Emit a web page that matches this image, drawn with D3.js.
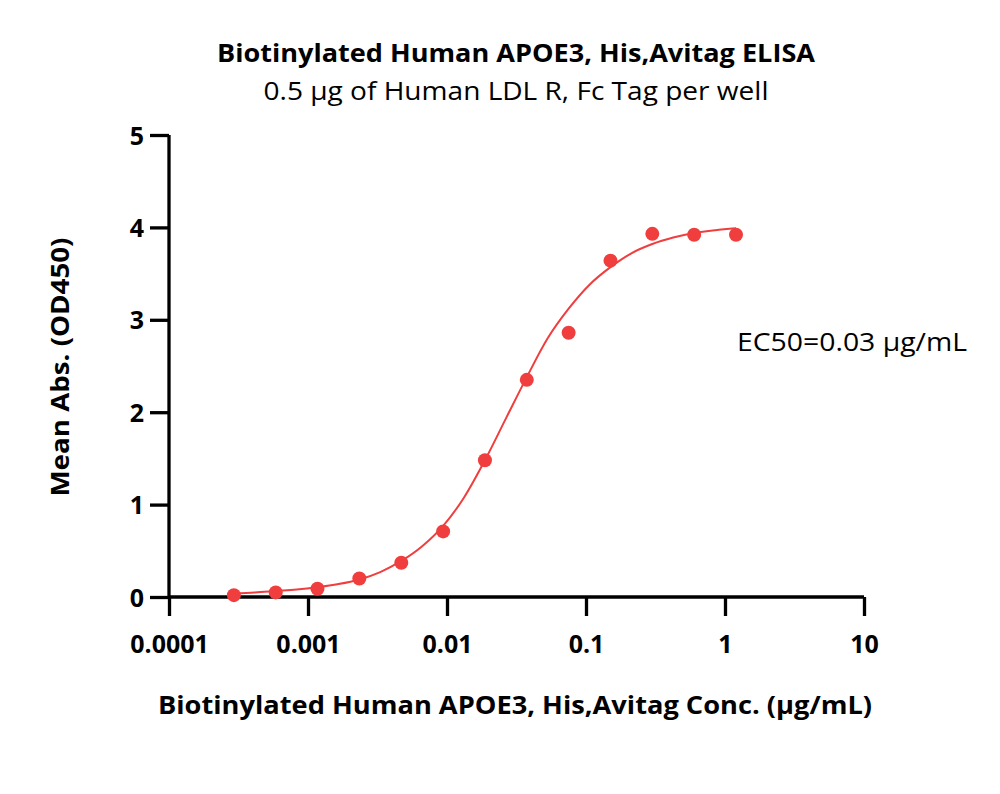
<!DOCTYPE html>
<html>
<head>
<meta charset="utf-8">
<script src="https://cdn.jsdelivr.net/npm/d3@7"></script>
<style>
  body { margin: 0; background: #fff; }
  svg text { font-family: "Open Sans", Lato, sans-serif; fill: #000; }
</style>
</head>
<body>
<svg id="chart" width="1000" height="794"></svg>
<script>
// measured points (conc in µg/mL, mean OD450)
const conc = [0.000293, 0.000586, 0.00117, 0.00234, 0.00469, 0.00938, 0.01875, 0.0375, 0.075, 0.15, 0.3, 0.6, 1.2];
const od = [0.02, 0.05, 0.09, 0.20, 0.37, 0.71, 1.48, 2.35, 2.86, 3.64, 3.93, 3.92, 3.92];

// fitted curve
const fitConc = [0.000293, 0.000414, 0.000586, 0.000829, 0.00117, 0.00166, 0.00234, 0.00331, 0.00469, 0.00663,
  0.00938, 0.0133, 0.01875, 0.0265, 0.0375, 0.053, 0.075, 0.106, 0.15, 0.212, 0.3, 0.424, 0.6, 0.85, 1.2];
const fitOd = [0.04, 0.05, 0.065, 0.08, 0.105, 0.14, 0.19, 0.27, 0.39, 0.55,
  0.77, 1.08, 1.48, 1.93, 2.38, 2.80, 3.12, 3.38, 3.57, 3.72, 3.82, 3.89, 3.94, 3.97, 3.99];

const xTicks = [0.0001, 0.001, 0.01, 0.1, 1, 10];
const xTickLabels = ["0.0001", "0.001", "0.01", "0.1", "1", "10"];
const yTicks = [0, 1, 2, 3, 4, 5];

const svg = d3.select("#chart");
const red = "#f03e3e";

const x = d3.scaleLog().domain([0.0001, 10]).range([169, 864]);
const y = d3.scaleLinear().domain([0, 5]).range([597, 135]);

// axes
const xAxis = svg.append("g")
  .attr("transform", `translate(0,${y(0)})`)
  .call(d3.axisBottom(x).tickValues(xTicks).tickFormat((d, i) => xTickLabels[i]).tickSize(19).tickPadding(19));
const yAxis = svg.append("g")
  .attr("transform", `translate(${x(0.0001)},0)`)
  .call(d3.axisLeft(y).tickValues(yTicks).tickFormat(d3.format("d")).tickSize(19).tickPadding(6));

[xAxis, yAxis].forEach(g => {
  g.select(".domain").attr("stroke", "#000").attr("stroke-width", 3.3);
  g.selectAll(".tick line").attr("stroke", "#000").attr("stroke-width", 3.3);
  g.selectAll(".tick text").attr("font-size", 25).attr("font-weight", "bold")
    .style("font-family", "'Open Sans', Lato, sans-serif");
});
yAxis.select(".domain").attr("d", `M0,${y(5)}V${y(0)}`);
xAxis.select(".domain").attr("d", `M${x(0.0001)},0H${x(10)}`);
yAxis.selectAll(".tick text").attr("dy", "0.36em");

// fitted curve
const line = d3.line()
  .x((d, i) => x(fitConc[i]))
  .y(d => y(d))
  .curve(d3.curveMonotoneX);

svg.append("path")
  .datum(fitOd)
  .attr("fill", "none")
  .attr("stroke", red)
  .attr("stroke-width", 2)
  .attr("d", line);

// points
svg.selectAll("circle.pt")
  .data(od)
  .enter()
  .append("circle")
  .attr("class", "pt")
  .attr("cx", (d, i) => x(conc[i]))
  .attr("cy", d => y(d))
  .attr("r", 7)
  .attr("fill", red);

// texts
svg.append("text")
  .attr("x", 516).attr("y", 62)
  .attr("text-anchor", "middle")
  .attr("font-size", 25).attr("font-weight", "bold")
  .attr("textLength", 598).attr("lengthAdjust", "spacingAndGlyphs")
  .text("Biotinylated Human APOE3, His,Avitag ELISA");

svg.append("text")
  .attr("x", 516).attr("y", 100)
  .attr("text-anchor", "middle")
  .attr("font-size", 25)
  .attr("textLength", 505).attr("lengthAdjust", "spacingAndGlyphs")
  .text("0.5 μg of Human LDL R, Fc Tag per well");

svg.append("text")
  .attr("transform", "translate(69,367) rotate(-90)")
  .attr("text-anchor", "middle")
  .attr("font-size", 25).attr("font-weight", "bold")
  .attr("textLength", 259).attr("lengthAdjust", "spacingAndGlyphs")
  .text("Mean Abs. (OD450)");

svg.append("text")
  .attr("x", 515).attr("y", 714)
  .attr("text-anchor", "middle")
  .attr("font-size", 25).attr("font-weight", "bold")
  .attr("textLength", 714).attr("lengthAdjust", "spacingAndGlyphs")
  .text("Biotinylated Human APOE3, His,Avitag Conc. (μg/mL)");

svg.append("text")
  .attr("x", 737).attr("y", 351)
  .attr("font-size", 25)
  .attr("textLength", 230).attr("lengthAdjust", "spacingAndGlyphs")
  .text("EC50=0.03 μg/mL");
</script>
</body>
</html>
